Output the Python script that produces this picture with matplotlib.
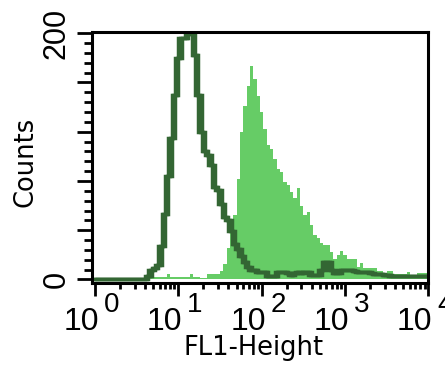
import numpy as np
import matplotlib
matplotlib.use('Agg')
import matplotlib.pyplot as plt
from matplotlib.ticker import LogLocator, MultipleLocator, NullFormatter
from matplotlib.transforms import offset_copy

# histogram channels: 25 bins per decade, bin i centred on 10**(i/25)
bins_per_decade = 25

# isotype control (dark outline)
control_counts = [0] * 16 + [
    3, 7.5, 9, 12, 27, 53, 84, 115, 150, 180,
    196, 196, 200, 199, 182, 150, 120, 104, 101, 93,
    75, 73, 61, 51, 48, 39, 29, 25, 19, 14.5,
    10.5, 8, 8, 6, 6, 6, 3, 3, 3, 6,
    6, 6, 5, 4, 5, 6, 5, 6, 6, 4,
    4, 4, 8, 14, 14, 8, 5, 5, 8, 8,
    8, 8, 7, 6, 6, 6, 6, 5, 4.5, 4.5,
    4.5, 4, 4] + [3] * 12

# stained sample (filled)
stained_counts = [0] * 17 + [
    2, 2, 2, 2, 2, 4.5, 2, 2, 2, 2,
    2, 2, 4.5, 2, 2, 1.5, 1.5, 4.5, 4.5, 4.5,
    4.5, 7, 12.5, 25.5, 42, 52, 82, 120, 141, 157,
    173, 163, 149, 136, 122, 109, 106, 98, 90, 87,
    79, 77, 71, 66, 74, 60, 52, 55, 44, 36,
    34, 30, 28, 28, 22, 17, 20, 23, 20, 17,
    17, 17, 10, 13, 9, 9, 9, 9, 7, 7,
    4.5, 7, 7, 4.5, 4.5, 4.5, 4.5, 6, 2.5, 2.5,
    5, 5, 5, 5]

decades = [0, 1, 2, 3, 4]
y_labels = [0, 200]

dark_green = '#336633'
light_green = '#66cc66'
digit_font = ['Liberation Sans Narrow', 'Liberation Sans', 'DejaVu Sans']

fig = plt.figure(figsize=(4.45, 3.65), dpi=100)
ax = fig.add_axes([0.2074, 0.2233, 0.7555, 0.689])

edges = 10 ** ((np.arange(len(control_counts) + 1) - 0.5) / bins_per_decade)
green_edges = 10 ** ((np.arange(len(stained_counts) + 1) - 0.5) / bins_per_decade)

ax.stairs(stained_counts, green_edges, fill=True, baseline=0,
          color=light_green, lw=0, zorder=1)

# the outline is drawn a few times, shifted sideways, so vertical strokes are wider
for dx in (-1.6, 0, 1.6):
    trans = offset_copy(ax.transData, fig=fig, x=dx, y=0, units='dots')
    ax.stairs(control_counts, edges, baseline=None, color=dark_green,
              lw=2.5, transform=trans, zorder=2)

ax.set_xscale('log')
ax.set_xlim(10 ** -0.032, 10 ** 4.002)
ax.set_ylim(-3.25, 201)

ax.xaxis.set_major_locator(LogLocator(base=10, numticks=10))
ax.xaxis.set_minor_locator(LogLocator(base=10, subs=np.arange(2, 10), numticks=40))
ax.xaxis.set_major_formatter(NullFormatter())
ax.xaxis.set_minor_formatter(NullFormatter())
ax.yaxis.set_major_locator(MultipleLocator(40))
ax.yaxis.set_minor_locator(MultipleLocator(8))
ax.yaxis.set_major_formatter(NullFormatter())

ax.tick_params(axis='x', which='major', length=9.5, width=2, direction='out', color='black')
ax.tick_params(axis='x', which='minor', length=4.5, width=2, direction='out', color='black')
ax.tick_params(axis='y', which='major', length=10.5, width=2, direction='out', color='black')
ax.tick_params(axis='y', which='minor', length=6, width=2, direction='out', color='black')

for side in ['left', 'right', 'top', 'bottom']:
    ax.spines[side].set_linewidth(2.2)
    ax.spines[side].set_color('black')
    ax.spines[side].set_zorder(3)

# decade labels: "10" plus a big superscript exponent
for d in decades:
    ax.annotate('10', xy=(10 ** d, 0), xycoords=('data', 'figure pixels'),
                xytext=(4, 35), textcoords='offset pixels', ha='right',
                va='baseline', fontsize=23, family=digit_font,
                annotation_clip=False)
    ax.annotate(str(d), xy=(10 ** d, 0), xycoords=('data', 'figure pixels'),
                xytext=(9, 53), textcoords='offset pixels', ha='left',
                va='baseline', fontsize=20, family=digit_font,
                annotation_clip=False)

# y labels, rotated
for val in y_labels:
    ypix = 365 - (279.5 - 1.231 * val)
    ax.annotate(str(val), xy=(65, ypix), xycoords='figure pixels', rotation=90,
                rotation_mode='anchor', ha='center', va='baseline',
                fontsize=22, family=digit_font, annotation_clip=False)

ax.annotate('Counts', xy=(32, 203), xycoords='figure pixels', rotation=90,
            rotation_mode='anchor', ha='center', va='baseline',
            fontsize=18.5, family='DejaVu Sans', annotation_clip=False)
ax.annotate('FL1-Height', xy=(254, 10), xycoords='figure pixels',
            ha='center', va='baseline', fontsize=18.5, family='DejaVu Sans',
            annotation_clip=False)

fig.savefig('out.png', dpi=100)
